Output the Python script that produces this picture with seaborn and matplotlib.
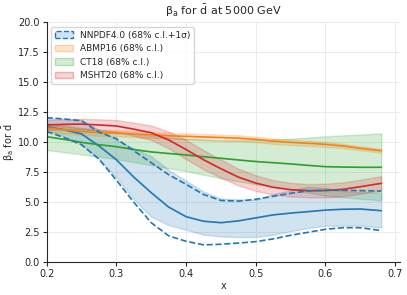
import numpy as np
import pandas as pd
import matplotlib
matplotlib.use("Agg")
import matplotlib.pyplot as plt
from matplotlib.patches import Patch
import seaborn as sns

# x grid shared by all sets
x = [0.2, 0.225, 0.25, 0.275, 0.3, 0.325, 0.35, 0.375, 0.4, 0.425,
     0.45, 0.475, 0.5, 0.525, 0.55, 0.575, 0.6, 0.625, 0.65, 0.68]

# NNPDF4.0
nnpdf_cv = [11.3, 11.05, 10.7, 9.7, 8.55, 7.1, 5.8, 4.6, 3.8, 3.42,
            3.3, 3.45, 3.7, 3.95, 4.1, 4.22, 4.35, 4.42, 4.44, 4.3]
nnpdf_hi = [12.0, 11.95, 11.85, 11.05, 10.2, 9.5, 8.85, 7.7, 6.8, 5.9,
            5.3, 5.25, 5.2, 5.7, 6.0, 6.3, 6.2, 5.95, 5.85, 5.8]
nnpdf_lo = [11.05, 10.5, 9.85, 8.6, 7.1, 5.25, 3.8, 3.1, 2.7, 2.3,
            2.15, 2.1, 2.1, 2.3, 2.6, 2.85, 3.05, 3.05, 3.05, 2.9]
nnpdf_sig_hi = [12.05, 11.95, 11.8, 10.85, 10.3, 9.3, 8.3, 7.3, 6.5, 5.65,
                5.15, 5.1, 5.25, 5.5, 5.75, 5.95, 6.0, 6.0, 5.97, 5.94]
nnpdf_sig_lo = [10.9, 10.4, 9.8, 8.6, 6.85, 5.0, 3.3, 2.2, 1.75, 1.45,
                1.5, 1.6, 1.72, 1.95, 2.25, 2.5, 2.75, 2.88, 2.88, 2.64]

# ABMP16
abmp_cv = [11.2, 11.05, 10.9, 10.8, 10.75, 10.7, 10.62, 10.55, 10.5, 10.45,
           10.4, 10.35, 10.25, 10.1, 10.0, 9.92, 9.83, 9.7, 9.5, 9.3]
abmp_hi = [11.55, 11.35, 11.15, 11.05, 11.0, 10.95, 10.87, 10.8, 10.75, 10.7,
           10.65, 10.6, 10.48, 10.33, 10.22, 10.13, 10.03, 9.88, 9.67, 9.45]
abmp_lo = [10.85, 10.75, 10.65, 10.55, 10.5, 10.45, 10.37, 10.3, 10.25, 10.2,
           10.15, 10.1, 10.02, 9.87, 9.78, 9.71, 9.63, 9.52, 9.33, 9.15]

# CT18
ct_cv = [10.47, 10.25, 10.0, 9.8, 9.64, 9.4, 9.2, 9.07, 8.95, 8.8,
         8.67, 8.53, 8.4, 8.3, 8.2, 8.08, 7.97, 7.94, 7.92, 7.92]
ct_hi = [11.6, 11.4, 11.2, 11.05, 10.9, 10.72, 10.55, 10.42, 10.3, 10.22,
         10.15, 10.17, 10.2, 10.25, 10.3, 10.4, 10.5, 10.58, 10.65, 10.75]
ct_lo = [9.36, 9.18, 9.0, 8.8, 8.6, 8.35, 8.1, 7.85, 7.6, 7.3,
         7.0, 6.75, 6.5, 6.3, 6.1, 5.82, 5.55, 5.42, 5.3, 5.15]

# MSHT20
msht_cv = [11.45, 11.5, 11.52, 11.45, 11.36, 11.1, 10.8, 10.2, 9.4, 8.55,
           7.8, 7.1, 6.6, 6.25, 6.05, 5.97, 5.98, 6.08, 6.3, 6.58]
msht_hi = [11.85, 11.92, 11.96, 11.92, 11.86, 11.65, 11.4, 10.9, 10.2, 9.35,
           8.55, 7.8, 7.25, 6.85, 6.62, 6.52, 6.55, 6.66, 6.88, 7.18]
msht_lo = [11.05, 11.08, 11.08, 10.98, 10.86, 10.55, 10.2, 9.5, 8.6, 7.75,
           7.05, 6.4, 5.95, 5.65, 5.48, 5.42, 5.41, 5.5, 5.72, 5.98]

sns.set_style("ticks")
plt.rcParams["mathtext.default"] = "regular"
plt.rcParams["font.size"] = 7

blue, orange, green, red = sns.color_palette("tab10")[:4]

fig = plt.figure(figsize=(4.07, 2.95), dpi=100)
ax = fig.add_axes([0.1147, 0.111, 0.8683, 0.813])

# uncertainty bands
ax.fill_between(x, nnpdf_lo, nnpdf_hi, color=blue, alpha=0.2)
ax.fill_between(x, abmp_lo, abmp_hi, color=orange, alpha=0.2)
ax.fill_between(x, ct_lo, ct_hi, color=green, alpha=0.2)
ax.fill_between(x, msht_lo, msht_hi, color=red, alpha=0.2)

# central values
df = pd.DataFrame({"x": x, "NNPDF": nnpdf_cv, "ABMP": abmp_cv,
                   "CT": ct_cv, "MSHT": msht_cv})
for col, c in zip(["NNPDF", "ABMP", "CT", "MSHT"], [blue, orange, green, red]):
    sns.lineplot(data=df, x="x", y=col, color=c, lw=1.2, ax=ax)

# NNPDF 1 sigma
ax.plot(x, nnpdf_sig_hi, color=blue, ls="--", lw=1.2)
ax.plot(x, nnpdf_sig_lo, color=blue, ls="--", lw=1.2)

ax.set_xlim(0.2, 0.707)
ax.set_ylim(0, 20)
ax.set_yticks(np.arange(0, 20.1, 2.5))
ax.grid(True, color="#ebebeb", lw=0.7)
ax.tick_params(labelsize=7, length=3, width=0.8, pad=2)
sns.despine(ax=ax)
ax.set_xlabel("x", fontsize=7, labelpad=1)
ax.set_ylabel(r"$\beta_a$ for $\bar{d}$", fontsize=7, labelpad=1)
ax.set_title(r"$\beta_a$ for $\bar{d}$ at 5000 GeV", fontsize=8, pad=5)

handles = [
    Patch(facecolor=(*blue, 0.2), edgecolor=blue, linestyle="--", label="NNPDF4.0 (68% c.l.+1σ)"),
    Patch(facecolor=(*orange, 0.2), edgecolor=(*orange, 0.3), label="ABMP16 (68% c.l.)"),
    Patch(facecolor=(*green, 0.2), edgecolor=(*green, 0.3), label="CT18 (68% c.l.)"),
    Patch(facecolor=(*red, 0.2), edgecolor=(*red, 0.3), label="MSHT20 (68% c.l.)"),
]
ax.legend(handles=handles, loc="upper left", fontsize=6.5, frameon=True)

fig.savefig("out.png", dpi=100)
